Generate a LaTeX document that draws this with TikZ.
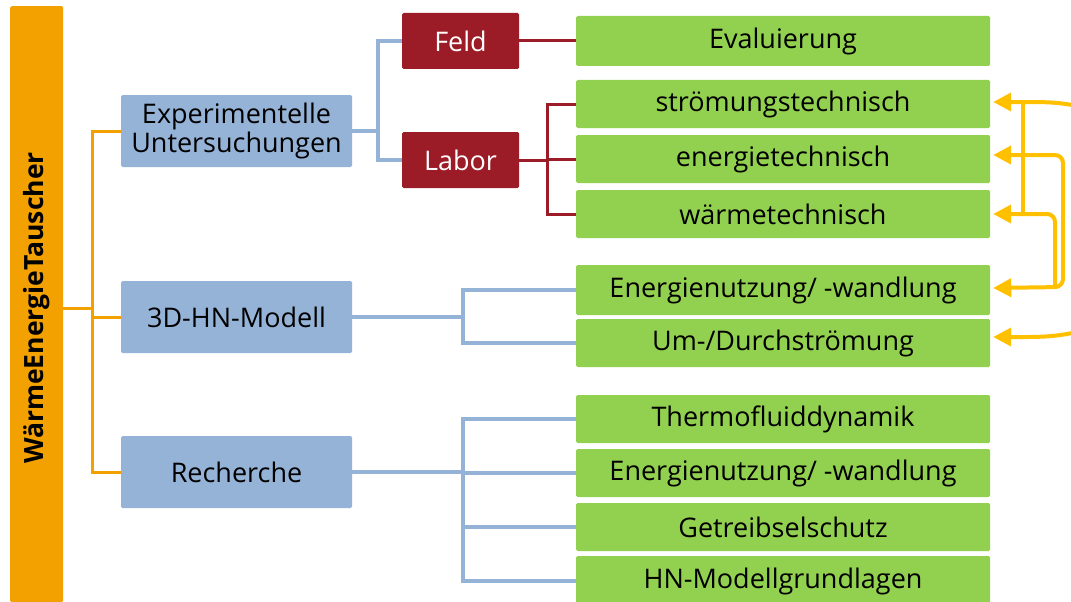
\documentclass[tikz,border=0pt]{standalone}
\usepackage{fontspec}
\setmainfont{Open Sans}
\usetikzlibrary{arrows.meta}
\definecolor{obar}{RGB}{243,161,0}
\definecolor{bbox}{RGB}{149,179,215}
\definecolor{rbox}{RGB}{155,27,38}
\definecolor{gbox}{RGB}{146,208,80}
\definecolor{yarr}{RGB}{255,192,0}
\begin{document}
\begin{tikzpicture}[x=1pt,y=-1pt,
  every node/.style={inner sep=0pt, font=\fontsize{27}{29}\selectfont, align=center},
  box/.style={rounded corners=1.5pt, draw=none},
  bluebox/.style={box, fill=bbox, minimum width=231pt, minimum height=72pt},
  redbox/.style={box, fill=rbox, text=white, minimum width=117pt, minimum height=56pt},
  greenbox/.style={box, fill=gbox, minimum width=414pt, minimum height=48pt},
  oline/.style={draw=obar, line width=3pt},
  bline/.style={draw=bbox, line width=3.2pt},
  rline/.style={draw=rbox, line width=3pt},
  yline/.style={draw=yarr, line width=4pt, rounded corners=8pt},
  ytip/.tip={Triangle[length=18pt,width=18pt]}
]
\useasboundingbox (0,0) rectangle (1071,602);
\fill[white] (0,0) rectangle (1071,602);

% main bar
\node[box, fill=obar, minimum width=53pt, minimum height=596pt, anchor=north west] (bar) at (10,6) {};
\node[rotate=90, font=\fontsize{26.5}{28}\selectfont\bfseries] (bartext) at (36.5,308) {WärmeEnergieTauscher};

% level 1
\node[bluebox] (exp) at (236.5,131) {Experimentelle\\Untersuchungen};
\node[bluebox] (hn) at (236.5,317) {3D-HN-Modell};
\node[bluebox] (rech) at (236.5,472) {Recherche};

% level 2
\node[redbox] (feld) at (460.5,41) {Feld};
\node[redbox] (labor) at (460.5,160) {Labor};

% green boxes
\node[greenbox, minimum height=50pt] (eval) at (783,41) {Evaluierung};
\node[greenbox] (stroem) at (783,104) {strömungstechnisch};
\node[greenbox] (energ) at (783,159) {energietechnisch};
\node[greenbox] (waerm) at (783,214) {wärmetechnisch};
\node[greenbox, minimum height=50pt] (enw1) at (783,290) {Energienutzung/ -wandlung};
\node[greenbox] (um) at (783,343) {Um-/Durchströmung};
\node[greenbox] (thermo) at (783,419) {Thermofluiddynamik};
\node[greenbox] (enw2) at (783,473) {Energienutzung/ -wandlung};
\node[greenbox] (getr) at (783,527) {Getreibselschutz};
\node[greenbox, minimum height=50pt] (hnm) at (783,581) {HN-Modellgrundlagen};

% orange connectors
\coordinate (oj) at (92,308);
\draw[oline] (bar.east |- oj) -- (oj);
\draw[oline] (exp.west) -| (oj);
\draw[oline] (rech.west) -| (oj);
\draw[oline] (hn.west) -- (hn.west -| oj);

% blue connectors (experimentelle)
\coordinate (bj) at (378,131);
\draw[bline] (exp.east) -- (bj);
\draw[bline] (feld.west) -| (bj);
\draw[bline] (labor.west) -| (bj);

% red connectors
\draw[rline] (feld.east) -- (eval.west);
\coordinate (rj) at (547,160);
\draw[rline] (labor.east) -- (rj);
\draw[rline] (stroem.west) -| (rj);
\draw[rline] (energ.west) -| (rj);
\draw[rline] (waerm.west) -| (rj);

% blue connectors (3D-HN)
\coordinate (hj) at (463,317);
\draw[bline] (hn.east) -- (hj);
\draw[bline] (enw1.west) -| (hj);
\draw[bline] (um.west) -| (hj);

% blue connectors (Recherche)
\coordinate (cj) at (463,472);
\draw[bline] (rech.east) -- (cj);
\draw[bline] (thermo.west) -| (cj);
\draw[bline] (enw2.west) -- (enw2.west -| cj);
\draw[bline] (getr.west) -| (cj);
\draw[bline] (hnm.west) -| (cj);

% yellow arrows
\coordinate (ya) at (1023,102);
\draw[yline, ytip-ytip] ([xshift=3pt,yshift=2pt]stroem.east) -- (ya) -- (1035,102)
  .. controls (1220,106) and (1220,328) .. (1035,337) -- ([xshift=3pt,yshift=6pt]um.east);
\draw[yline] (ya) -- (1023,214);
\draw[yline, ytip-ytip] ([xshift=3pt,yshift=4pt]energ.east) -- (1063,155) -- (1063,287) -- ([xshift=3pt,yshift=2pt]enw1.east);
\draw[yline, -ytip] (1055,287) -- (1055,214) -- ([xshift=3pt]waerm.east);
\end{tikzpicture}
\end{document}
